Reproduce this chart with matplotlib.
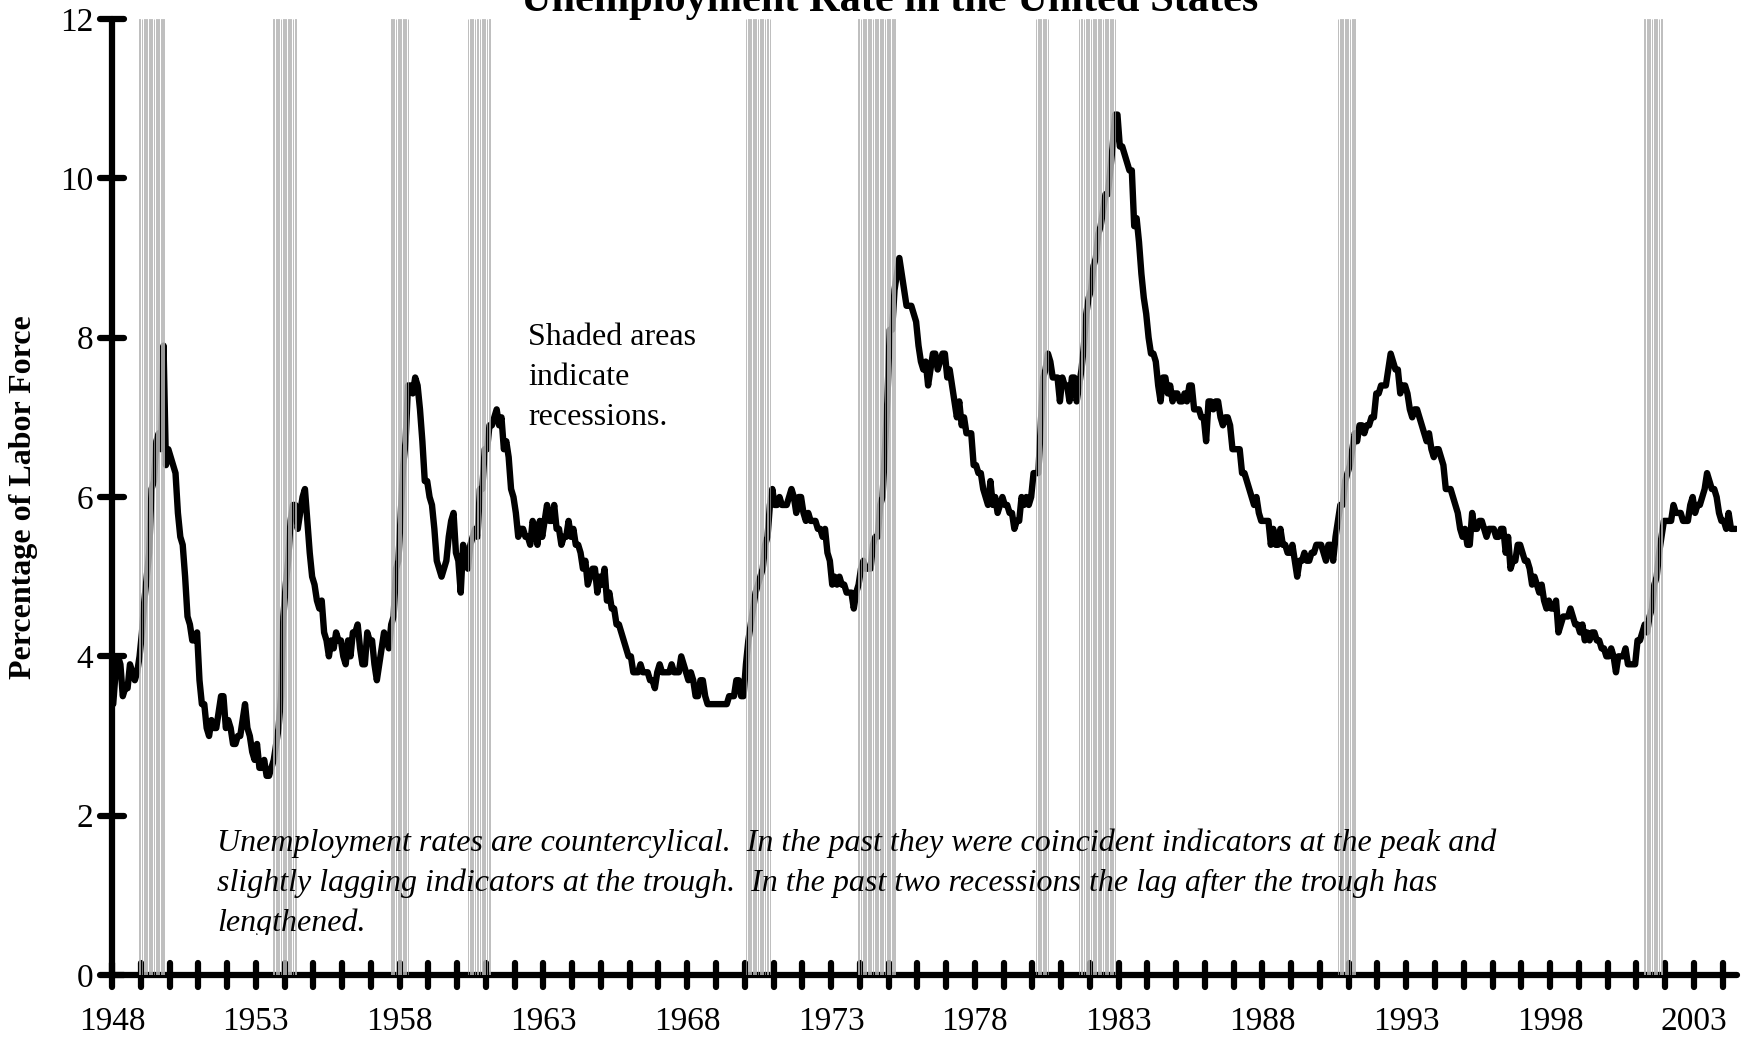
import numpy as np
import matplotlib
matplotlib.use("Agg")
from matplotlib import pyplot as plt
from matplotlib.markers import MarkerStyle
from matplotlib.transforms import Bbox, TransformedBbox

# region: data
startYear = 1948

# monthly civilian unemployment rate (%), Jan 1948 onward, one row per year
rate = [
    3.4, 3.8, 4.0, 3.9, 3.5, 3.6, 3.6, 3.9, 3.8, 3.7, 3.8, 4.0,   # 1948
    4.3, 4.7, 5.0, 5.3, 6.1, 6.2, 6.7, 6.8, 6.6, 7.9, 6.4, 6.6,   # 1949
    6.5, 6.4, 6.3, 5.8, 5.5, 5.4, 5.0, 4.5, 4.4, 4.2, 4.2, 4.3,   # 1950
    3.7, 3.4, 3.4, 3.1, 3.0, 3.2, 3.1, 3.1, 3.3, 3.5, 3.5, 3.1,   # 1951
    3.2, 3.1, 2.9, 2.9, 3.0, 3.0, 3.2, 3.4, 3.1, 3.0, 2.8, 2.7,   # 1952
    2.9, 2.6, 2.6, 2.7, 2.5, 2.5, 2.6, 2.7, 2.9, 3.1, 3.5, 4.5,   # 1953
    4.9, 5.2, 5.7, 5.9, 5.9, 5.6, 5.8, 6.0, 6.1, 5.7, 5.3, 5.0,   # 1954
    4.9, 4.7, 4.6, 4.7, 4.3, 4.2, 4.0, 4.2, 4.1, 4.3, 4.2, 4.2,   # 1955
    4.0, 3.9, 4.2, 4.0, 4.3, 4.3, 4.4, 4.1, 3.9, 3.9, 4.3, 4.2,   # 1956
    4.2, 3.9, 3.7, 3.9, 4.1, 4.3, 4.2, 4.1, 4.4, 4.5, 5.1, 5.2,   # 1957
    5.8, 6.4, 6.7, 7.4, 7.4, 7.3, 7.5, 7.4, 7.1, 6.7, 6.2, 6.2,   # 1958
    6.0, 5.9, 5.6, 5.2, 5.1, 5.0, 5.1, 5.2, 5.5, 5.7, 5.8, 5.3,   # 1959
    5.2, 4.8, 5.4, 5.2, 5.1, 5.4, 5.5, 5.6, 5.5, 6.1, 6.1, 6.6,   # 1960
    6.6, 6.9, 6.9, 7.0, 7.1, 6.9, 7.0, 6.6, 6.7, 6.5, 6.1, 6.0,   # 1961
    5.8, 5.5, 5.6, 5.6, 5.5, 5.5, 5.4, 5.7, 5.6, 5.4, 5.7, 5.5,   # 1962
    5.7, 5.9, 5.7, 5.7, 5.9, 5.6, 5.6, 5.4, 5.5, 5.5, 5.7, 5.5,   # 1963
    5.6, 5.4, 5.4, 5.3, 5.1, 5.2, 4.9, 5.0, 5.1, 5.1, 4.8, 5.0,   # 1964
    4.9, 5.1, 4.7, 4.8, 4.6, 4.6, 4.4, 4.4, 4.3, 4.2, 4.1, 4.0,   # 1965
    4.0, 3.8, 3.8, 3.8, 3.9, 3.8, 3.8, 3.8, 3.7, 3.7, 3.6, 3.8,   # 1966
    3.9, 3.8, 3.8, 3.8, 3.8, 3.9, 3.8, 3.8, 3.8, 4.0, 3.9, 3.8,   # 1967
    3.7, 3.8, 3.7, 3.5, 3.5, 3.7, 3.7, 3.5, 3.4, 3.4, 3.4, 3.4,   # 1968
    3.4, 3.4, 3.4, 3.4, 3.4, 3.5, 3.5, 3.5, 3.7, 3.7, 3.5, 3.5,   # 1969
    3.9, 4.2, 4.4, 4.6, 4.8, 4.9, 5.0, 5.1, 5.4, 5.5, 5.9, 6.1,   # 1970
    5.9, 5.9, 6.0, 5.9, 5.9, 5.9, 6.0, 6.1, 6.0, 5.8, 6.0, 6.0,   # 1971
    5.8, 5.7, 5.8, 5.7, 5.7, 5.7, 5.6, 5.6, 5.5, 5.6, 5.3, 5.2,   # 1972
    4.9, 5.0, 4.9, 5.0, 4.9, 4.9, 4.8, 4.8, 4.8, 4.6, 4.8, 4.9,   # 1973
    5.1, 5.2, 5.1, 5.1, 5.1, 5.4, 5.5, 5.5, 5.9, 6.0, 6.6, 7.2,   # 1974
    8.1, 8.1, 8.6, 8.8, 9.0, 8.8, 8.6, 8.4, 8.4, 8.4, 8.3, 8.2,   # 1975
    7.9, 7.7, 7.6, 7.7, 7.4, 7.6, 7.8, 7.8, 7.6, 7.7, 7.8, 7.8,   # 1976
    7.5, 7.6, 7.4, 7.2, 7.0, 7.2, 6.9, 7.0, 6.8, 6.8, 6.8, 6.4,   # 1977
    6.4, 6.3, 6.3, 6.1, 6.0, 5.9, 6.2, 5.9, 6.0, 5.8, 5.9, 6.0,   # 1978
    5.9, 5.9, 5.8, 5.8, 5.6, 5.7, 5.7, 6.0, 5.9, 6.0, 5.9, 6.0,   # 1979
    6.3, 6.3, 6.3, 6.9, 7.5, 7.6, 7.8, 7.7, 7.5, 7.5, 7.5, 7.2,   # 1980
    7.5, 7.4, 7.4, 7.2, 7.5, 7.5, 7.2, 7.4, 7.6, 7.9, 8.3, 8.5,   # 1981
    8.6, 8.9, 9.0, 9.3, 9.4, 9.6, 9.8, 9.8, 10.1, 10.4, 10.8, 10.8,  # 1982
    10.4, 10.4, 10.3, 10.2, 10.1, 10.1, 9.4, 9.5, 9.2, 8.8, 8.5, 8.3,  # 1983
    8.0, 7.8, 7.8, 7.7, 7.4, 7.2, 7.5, 7.5, 7.3, 7.4, 7.2, 7.3,   # 1984
    7.3, 7.2, 7.2, 7.3, 7.2, 7.4, 7.4, 7.1, 7.1, 7.1, 7.0, 7.0,   # 1985
    6.7, 7.2, 7.2, 7.1, 7.2, 7.2, 7.0, 6.9, 7.0, 7.0, 6.9, 6.6,   # 1986
    6.6, 6.6, 6.6, 6.3, 6.3, 6.2, 6.1, 6.0, 5.9, 6.0, 5.8, 5.7,   # 1987
    5.7, 5.7, 5.7, 5.4, 5.6, 5.4, 5.4, 5.6, 5.4, 5.4, 5.3, 5.3,   # 1988
    5.4, 5.2, 5.0, 5.2, 5.2, 5.3, 5.2, 5.2, 5.3, 5.3, 5.4, 5.4,   # 1989
    5.4, 5.3, 5.2, 5.4, 5.4, 5.2, 5.5, 5.7, 5.9, 5.9, 6.2, 6.3,   # 1990
    6.4, 6.6, 6.8, 6.7, 6.9, 6.9, 6.8, 6.9, 6.9, 7.0, 7.0, 7.3,   # 1991
    7.3, 7.4, 7.4, 7.4, 7.6, 7.8, 7.7, 7.6, 7.6, 7.3, 7.4, 7.4,   # 1992
    7.3, 7.1, 7.0, 7.1, 7.1, 7.0, 6.9, 6.8, 6.7, 6.8, 6.6, 6.5,   # 1993
    6.6, 6.6, 6.5, 6.4, 6.1, 6.1, 6.1, 6.0, 5.9, 5.8, 5.6, 5.5,   # 1994
    5.6, 5.4, 5.4, 5.8, 5.6, 5.6, 5.7, 5.7, 5.6, 5.5, 5.6, 5.6,   # 1995
    5.6, 5.5, 5.5, 5.6, 5.6, 5.3, 5.5, 5.1, 5.2, 5.2, 5.4, 5.4,   # 1996
    5.3, 5.2, 5.2, 5.1, 4.9, 5.0, 4.9, 4.8, 4.9, 4.7, 4.6, 4.7,   # 1997
    4.6, 4.6, 4.7, 4.3, 4.4, 4.5, 4.5, 4.5, 4.6, 4.5, 4.4, 4.4,   # 1998
    4.3, 4.4, 4.2, 4.3, 4.2, 4.3, 4.3, 4.2, 4.2, 4.1, 4.1, 4.0,   # 1999
    4.0, 4.1, 4.0, 3.8, 4.0, 4.0, 4.0, 4.1, 3.9, 3.9, 3.9, 3.9,   # 2000
    4.2, 4.2, 4.3, 4.4, 4.3, 4.5, 4.6, 4.9, 5.0, 5.3, 5.5, 5.7,   # 2001
    5.7, 5.7, 5.7, 5.9, 5.8, 5.8, 5.8, 5.7, 5.7, 5.7, 5.9, 6.0,   # 2002
    5.8, 5.9, 5.9, 6.0, 6.1, 6.3, 6.2, 6.1, 6.1, 6.0, 5.8, 5.7,   # 2003
    5.7, 5.6, 5.8, 5.6, 5.6, 5.6,                                 # 2004
]

# NBER business cycle peaks and troughs (year, month)
recessionPeaks = [(1948, 11), (1953, 7), (1957, 8), (1960, 4), (1969, 12),
                  (1973, 11), (1980, 1), (1981, 7), (1990, 7), (2001, 3)]
recessionTroughs = [(1949, 10), (1954, 5), (1958, 4), (1961, 2), (1970, 11),
                    (1975, 3), (1980, 7), (1982, 11), (1991, 3), (2001, 11)]

yTicks = [0, 2, 4, 6, 8, 10, 12]
labelEvery = 5  # years between x labels

titleText = "Unemployment Rate in the United States"
yLabelText = "Percentage of Labor Force"
shadedNote = ["Shaded areas", "indicate", "recessions."]
cycleNote = ["Unemployment rates are countercylical.  In the past they were coincident indicators at the peak and",
             "slightly lagging indicators at the trough.  In the past two recessions the lag after the trough has",
             "lengthened."]
# endregion

# region: derived positions
months = np.arange(len(rate))
xMonth = startYear + (months + 0.5) / 12
endYear = startYear + len(rate) / 12

def month_index(ym):
    return (ym[0] - startYear) * 12 + (ym[1] - 1)

recessionMonths = []
for peak, trough in zip(recessionPeaks, recessionTroughs):
    recessionMonths.extend(range(month_index(peak) + 1, month_index(trough) + 1))
recessionMonths = np.array(recessionMonths)
xRecession = startYear + (recessionMonths + 0.5) / 12
# endregion

# region: figure
plt.rcParams['font.family'] = ['Liberation Serif', 'DejaVu Serif']
W, H = 1760, 1038
fig = plt.figure(figsize=(W / 100, H / 100), dpi=100)
ax = fig.add_axes([112 / W, 1 - 975 / H, (1737 - 112) / W, (975 - 19) / H])

ax.plot(xMonth, rate, color='black', linewidth=4.6, solid_joinstyle='round',
        solid_capstyle='round', zorder=2)

# recession months: thin white columns with grey edges, the line peeks between them
ax.bar(xRecession, yTicks[-1], width=0.32 / 12, bottom=0, color='white',
       edgecolor='#a4a4a4', linewidth=0.5, zorder=3)

ax.set_xlim(startYear, endYear)
ax.set_ylim(yTicks[0], yTicks[-1])

for side in ['top', 'right']:
    ax.spines[side].set_visible(False)
for side in ['left', 'bottom']:
    ax.spines[side].set_linewidth(4.5)
    ax.spines[side].set_capstyle('round')

yearTicks = np.arange(startYear, int(endYear) + 1)
ax.set_xticks(yearTicks)
ax.set_xticklabels([str(y) if (y - startYear) % labelEvery == 0 else '' for y in yearTicks])
ax.set_yticks(yTicks)
ax.set_yticklabels([str(v) for v in yTicks])

ax.tick_params(axis='both', direction='inout', length=17, width=4.5, labelsize=24)
ax.tick_params(axis='x', pad=14)
ax.tick_params(axis='y', pad=5)

for tick in ax.xaxis.get_major_ticks():
    tick.tick1line.set_marker(MarkerStyle('|', capstyle='round'))
for tick in ax.yaxis.get_major_ticks():
    tick.tick1line.set_marker(MarkerStyle('_', capstyle='round'))

fig.text(890 / W, 1 - 11 / H, titleText, ha='center', va='baseline',
         fontsize=30.5, fontweight='bold')
fig.text(24 / W, 1 - 497 / H, yLabelText, ha='center', va='center',
         rotation=90, fontsize=23, fontweight='bold')

for i, line in enumerate(shadedNote):
    fig.text(528 / W, 1 - (345 + 40 * i) / H, line, ha='left', va='baseline', fontsize=23)

# the note box cuts off just under its third line
noteClip = TransformedBbox(Bbox([[0, 1 - 935 / H], [1, 1]]), fig.transFigure)
for i, line in enumerate(cycleNote):
    t = fig.text(217 / W, 1 - (851 + 40 * i) / H, line, ha='left', va='baseline',
                 fontsize=23.0, fontstyle='italic')
    t.set_clip_box(noteClip)
    t.set_clip_on(True)

fig.savefig("out.png", dpi=100)
# endregion
